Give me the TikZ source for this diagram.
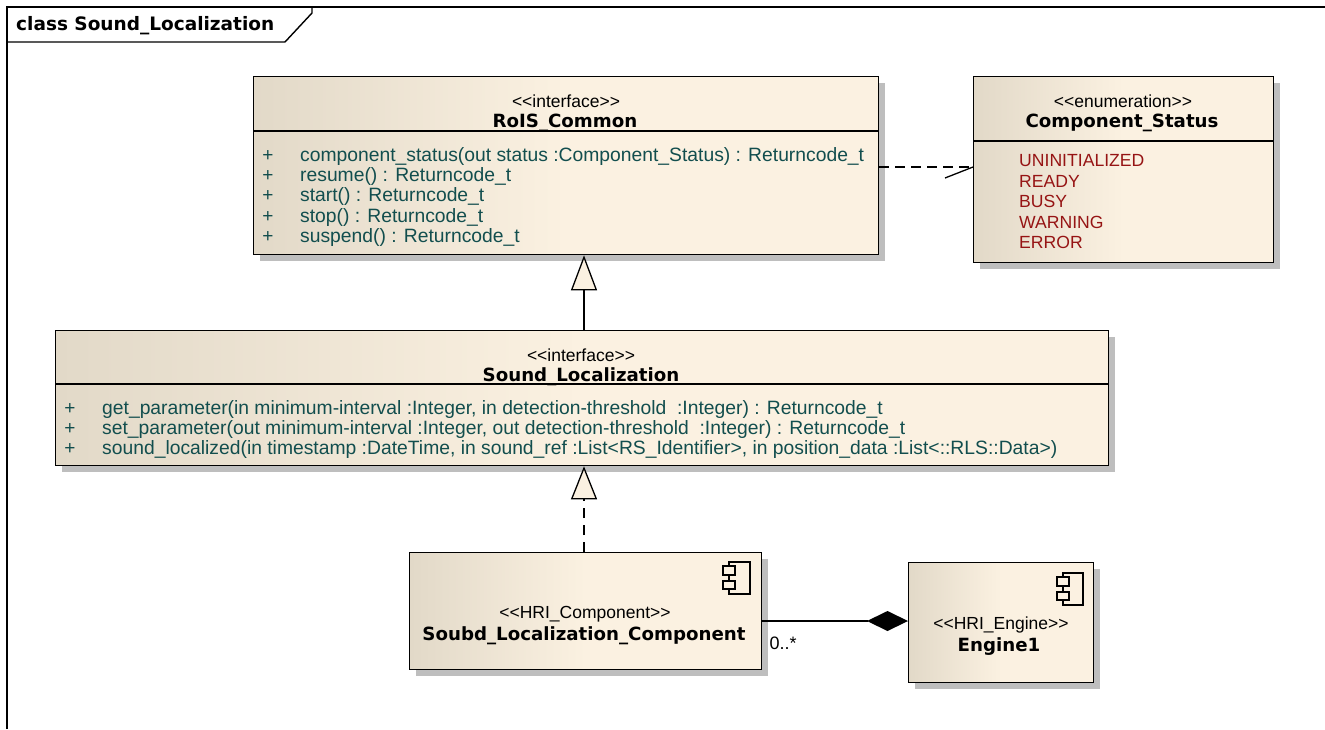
\documentclass[tikz,border=0pt]{standalone}
\usepackage{fontspec}
\setmainfont{Liberation Sans}
\newfontfamily\namefont{DejaVu Sans}
\usetikzlibrary{arrows.meta,shadows}
\definecolor{boxL}{RGB}{226,217,200}
\definecolor{boxR}{RGB}{251,241,225}
\definecolor{shadowgrey}{RGB}{190,190,190}
\definecolor{opcol}{RGB}{18,78,78}
\definecolor{litred}{RGB}{150,20,20}
\newcommand{\stl}{<\kern0pt<}
\newcommand{\str}{>\kern0pt>}
\begin{document}
\begin{tikzpicture}[x=1pt,y=-1pt,
  umlbox/.style={draw=black, line width=1.3pt, left color=boxL, right color=boxR, middle color=boxR,
     anchor=north west, inner sep=0pt,
     drop shadow={shadow xshift=6pt, shadow yshift=-6pt, fill=shadowgrey, opacity=1}},
  stereo/.style={font=\fontsize{17.5}{20}\selectfont, inner sep=0pt, yshift=-1.5pt},
  bname/.style={font=\namefont\bfseries\fontsize{18.2}{21}\selectfont, inner sep=0pt, yshift=-2pt},
  optext/.style={font=\fontsize{19.3}{21}\selectfont, text=opcol, anchor=west, inner sep=0pt, text height=13pt, text depth=4pt, yshift=-2pt},
  plus/.style={font=\fontsize{19}{21}\selectfont, text=opcol, inner sep=0pt, yshift=-1pt},
  littext/.style={font=\fontsize{17.6}{20}\selectfont, text=litred, anchor=west, inner sep=0pt, text height=13pt, text depth=4pt, yshift=-2pt},
  divider/.style={line width=1.3pt},
  conn/.style={line width=1.3pt},
  icon/.style={line width=1.2pt, fill=boxR}
]
\useasboundingbox (0,0) rectangle (1325,729);
\fill[white] (0,0) rectangle (1325,729);

% frame
\draw[line width=1.4pt] (7,729) -- (7,7) -- (1325,7);
\draw[line width=1.4pt] (7,42) -- (285,42) -- (312,13) -- (312,7);
\node[font=\namefont\bfseries\fontsize{18.5}{21}\selectfont, anchor=west, inner sep=0pt] (title) at (16,26) {class Sound\_Localization};

% RoIS_Common
\node[umlbox, minimum width=625pt, minimum height=178pt] (rois) at (253,76) {};
\draw[divider] (253,131) -- (878,131);
\node[stereo] (rs) at (566,100) {\stl interface\str};
\node[bname] (rn) at (565,121) {RoIS\_Common};
\foreach \yy/\txt [count=\i] in {155/{component\_status(out status :Component\_Status) : Returncode\_t},
  175/{resume() : Returncode\_t}, 195/{start() : Returncode\_t}, 216/{stop() : Returncode\_t},
  236/{suspend() : Returncode\_t}}{
  \node[plus] (rp\i) at (268,\yy) {+};
  \node[optext] (ro\i) at (300,\yy) {\txt};
}

% Component_Status
\node[umlbox, minimum width=300pt, minimum height=186pt] (cs) at (973,76) {};
\draw[divider] (973,141) -- (1273,141);
\node[stereo] (css) at (1123,100) {\stl enumeration\str};
\node[bname] (csn) at (1122,121) {Component\_Status};
\foreach \yy/\txt [count=\i] in {160/UNINITIALIZED, 181/READY, 201/BUSY, 222/WARNING, 242/ERROR}{
  \node[littext] (cl\i) at (1019,\yy) {\txt};
}

% Sound_Localization
\node[umlbox, minimum width=1053pt, minimum height=135pt] (sl) at (55,330) {};
\draw[divider] (55,384) -- (1108,384);
\node[stereo] (sls) at (581,354) {\stl interface\str};
\node[bname] (sln) at (581,375) {Sound\_Localization};
\foreach \yy/\txt [count=\i] in {
  408/{get\_parameter(in minimum-interval :Integer, in detection-threshold\ \ :Integer) : Returncode\_t},
  428/{set\_parameter(out minimum-interval :Integer, out detection-threshold\ \ :Integer) : Returncode\_t},
  448/{sound\_localized(in timestamp :DateTime, in sound\_ref :List<RS\_Identifier>, in position\_data :List<::RLS::Data>)}}{
  \node[plus] (sp\i) at (70,\yy) {+};
  \node[optext] (so\i) at (102,\yy) {\txt};
}

% Component
\node[umlbox, minimum width=352pt, minimum height=117pt] (comp) at (409,552) {};
\draw[icon] (729,562) rectangle (750,594);
\draw[icon] (723,566) rectangle (735,575);
\draw[icon] (723,581) rectangle (735,589);
\node[stereo] (cps) at (585,613) {\stl HRI\_Component\str};
\node[bname] (cpn) at (584,634) {Soubd\_Localization\_Component};

% Engine1
\node[umlbox, minimum width=185pt, minimum height=120pt] (eng) at (908,562) {};
\draw[icon] (1063,573) rectangle (1083,605);
\draw[icon] (1057,577) rectangle (1069,586);
\draw[icon] (1057,592) rectangle (1069,600);
\node[stereo] (ens) at (1001,623) {\stl HRI\_Engine\str};
\node[bname] (enn) at (999,645) {Engine1};

% connectors
\draw[conn, -{Triangle[length=35pt,width=26pt,fill=boxR,line width=1.3pt]}] (sl.north -| 584,0) -- (rois.south -| 584,0);
\draw[conn, dash pattern=on 10pt off 7pt, -{Triangle[length=33pt,width=26pt,fill=boxR,line width=1.3pt]}] (comp.north -| 584,0) -- (sl.south -| 584,0);
\draw[conn, dash pattern=on 10pt off 6pt] (rois.east |- 0,167) -- (cs.west |- 0,167);
\coordinate (halfarrow) at (945,178);
\draw[conn] (cs.west |- 0,167) -- (halfarrow);
\draw[conn, -{Diamond[length=41pt,width=20pt,fill=black]}] (comp.east |- 0,621) -- (eng.west |- 0,621);
\node[font=\fontsize{18}{20}\selectfont, inner sep=0pt] (mult) at (783,643) {0..*};
\end{tikzpicture}
\end{document}
